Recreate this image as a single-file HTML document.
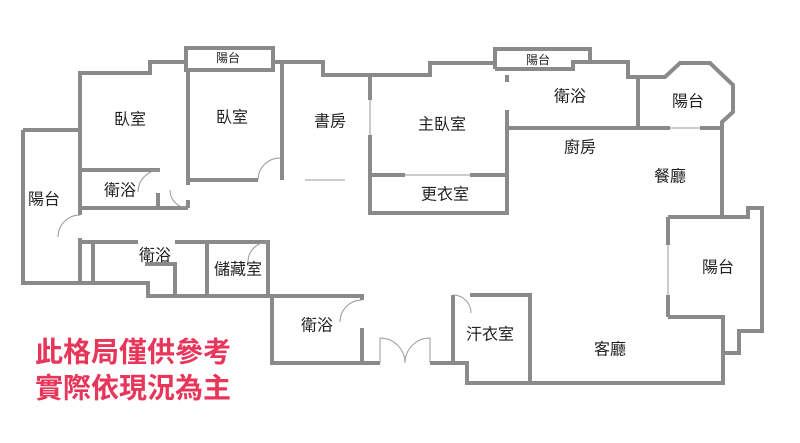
<!DOCTYPE html>
<html><head><meta charset="utf-8"><style>
html,body{margin:0;padding:0;background:#fff;width:800px;height:443px;overflow:hidden}
svg{display:block}
text{font-family:"Liberation Sans","Noto Sans CJK TC",sans-serif;fill:#222;text-anchor:middle;dominant-baseline:central}
.r{font-family:"Liberation Sans","Noto Sans CJK TC",sans-serif;fill:#e8365a;font-weight:bold;text-anchor:start}
</style></head><body>
<svg width="800" height="443" viewBox="0 0 800 443">
<g fill="none" stroke="#8a8a8a" stroke-width="4" stroke-linejoin="miter">
<polyline points="80,215 80,73 150,73 150,62 186,62"/>
<rect x="186" y="48" width="87" height="22"/>
<polyline points="273,62 323,62 323,75 430,75 430,63 495,63"/>
<polyline points="495,69 495,49 590,49 590,62"/>
<polyline points="495,69 573,69 573,62 628,62 628,77 665,77 680,63 710,63 733,85 733,112 722,122 722,217 670,217"/>
<polyline points="668,217 748,217 748,208 762,208 762,331 739,331 739,353 723,353"/>
<polyline points="668,317 723,317 723,383 530,383 467,383 467,363 453,363"/>
<line x1="668" y1="217" x2="668" y2="245"/>
<line x1="668" y1="295" x2="668" y2="317"/>
<polyline points="453,363 453,295"/>
<polyline points="470,295 530,295 530,383"/>
<line x1="430" y1="363" x2="453" y2="363"/>
<polyline points="380,363 272,363 272,296 362,296 362,300"/>
<line x1="362" y1="328" x2="362" y2="363"/>
<polyline points="23,130 80,130"/>
<polyline points="80,238 80,242 80,283 23,283 23,130"/>
<polyline points="80,283 148,283 148,296 272,296"/>
<polyline points="80,242 138,242"/>
<polyline points="175,242 268,242 268,296"/>
<line x1="93" y1="242" x2="93" y2="283"/>
<polyline points="145,264 175,264 175,296"/>
<line x1="207" y1="242" x2="207" y2="296"/>
<line x1="80" y1="170" x2="160" y2="170"/>
<line x1="158" y1="193" x2="158" y2="208"/>
<line x1="80" y1="208" x2="188" y2="208"/>
<polyline points="188,70 188,185"/>
<line x1="188" y1="200" x2="188" y2="208"/>
<line x1="188" y1="180" x2="258" y2="180"/>
<line x1="282" y1="62" x2="282" y2="180"/>
<line x1="370" y1="75" x2="370" y2="100"/>
<line x1="370" y1="135" x2="370" y2="175"/>
<polyline points="370,175 370,213 507,213 507,175"/>
<line x1="370" y1="175" x2="405" y2="175"/>
<line x1="470" y1="175" x2="507" y2="175"/>
<line x1="507" y1="175" x2="507" y2="110"/>
<line x1="507" y1="75" x2="507" y2="82"/>
<line x1="507" y1="128" x2="670" y2="128"/>
<line x1="700" y1="128" x2="722" y2="128"/>
<line x1="638" y1="77" x2="638" y2="128"/>
</g>
<g fill="none" stroke="#999" stroke-width="1">
<line x1="305" y1="180" x2="345" y2="180"/>
<path d="M258,180 A22,22 0 0 1 280,158"/>
<path d="M160,170 A22,22 0 0 0 138,192"/>
<path d="M188,208 A18,18 0 0 1 170,190"/>
<path d="M80,215 A22,22 0 0 0 58,237"/>
<path d="M268,242 A20,20 0 0 0 248,262"/>
<path d="M362,300 A22,22 0 0 0 340,322"/>
<path d="M453,295 A18,18 0 0 1 471,313"/>
<path d="M380,363 L380,338 A25,25 0 0 1 405,363"/>
<path d="M430,363 L430,338 A25,25 0 0 0 405,363"/>
<line x1="370" y1="100" x2="370" y2="135"/>
<line x1="405" y1="175" x2="470" y2="175"/>
<line x1="670" y1="128" x2="700" y2="128"/>
<line x1="668" y1="245" x2="668" y2="295"/>
</g>
<g font-size="16">
<text x="228" y="58" font-size="12">陽台</text>
<text x="538" y="60" font-size="12">陽台</text>
<text x="130" y="120">臥室</text>
<text x="232" y="118">臥室</text>
<text x="330" y="122">書房</text>
<text x="442" y="125">主臥室</text>
<text x="570" y="97">衛浴</text>
<text x="688" y="102">陽台</text>
<text x="580" y="148">廚房</text>
<text x="670" y="177">餐廳</text>
<text x="445" y="195">更衣室</text>
<text x="120" y="191">衛浴</text>
<text x="44" y="200">陽台</text>
<text x="155" y="256">衛浴</text>
<text x="238" y="270">儲藏室</text>
<text x="718" y="268">陽台</text>
<text x="317" y="326">衛浴</text>
<text x="490" y="335">汗衣室</text>
<text x="610" y="350">客廳</text>
</g>
<text class="r" x="35" y="352" font-size="28">此格局僅供參考</text>
<text class="r" x="35" y="388" font-size="28">實際依現況為主</text>
</svg>
</body></html>
